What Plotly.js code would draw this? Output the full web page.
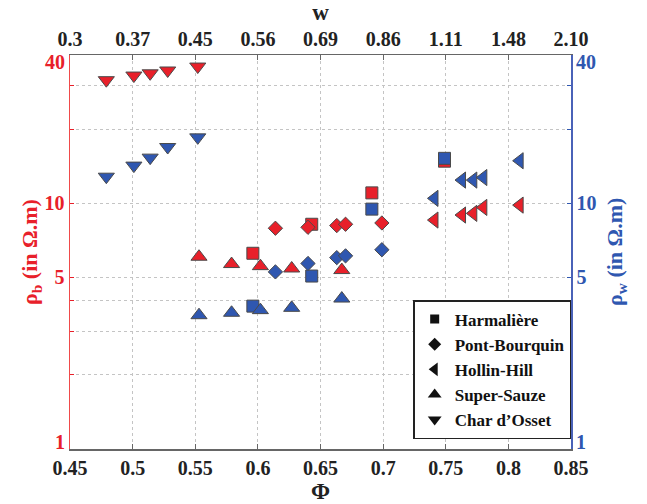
<!DOCTYPE html>
<html>
<head>
<meta charset="utf-8">
<script src="https://cdn.plot.ly/plotly-3.0.1.min.js"></script>
<style>html,body{margin:0;padding:0;background:#fff;}#chart{width:647px;height:504px;}</style>
</head>
<body>
<div id="chart"></div>
<script>
// ---- Data ----
const harmPhi  = [0.596, 0.643, 0.691, 0.749];
const harmRhoB = [6.25, 8.2, 11.0, 14.8];
const harmRhoW = [3.81, 5.05, 9.45, 15.2];

const pontPhi  = [0.614, 0.640, 0.663, 0.670, 0.699];
const pontRhoB = [7.9, 7.97, 8.1, 8.2, 8.3];
const pontRhoW = [5.25, 5.68, 6.0, 6.1, 6.46];

const hollPhi  = [0.741, 0.763, 0.772, 0.780, 0.809];
const hollRhoB = [8.53, 8.94, 9.08, 9.6, 9.81];
const hollRhoW = [10.45, 12.4, 12.4, 12.7, 14.86];

const supPhi  = [0.553, 0.579, 0.602, 0.627, 0.667];
const supRhoB = [6.05, 5.65, 5.54, 5.42, 5.34];
const supRhoW = [3.5, 3.58, 3.67, 3.75, 4.09];

const charPhi  = [0.479, 0.501, 0.514, 0.528, 0.552];
const charRhoB = [31.6, 33.0, 33.7, 34.6, 35.9];
const charRhoW = [12.8, 14.2, 15.3, 16.9, 18.5];

const phiTicks = [0.45, 0.5, 0.55, 0.6, 0.65, 0.7, 0.75, 0.8, 0.85];
const phiTickText = ['0.45', '0.5', '0.55', '0.6', '0.65', '0.7', '0.75', '0.8', '0.85'];
const wTickText = ['0.3', '0.37', '0.45', '0.56', '0.69', '0.86', '1.11', '1.48', '2.10'];
const rhoTicks = [1, 2, 3, 4, 5, 10, 20, 30, 40];
const rhoTickText = ['', '', '', '', '5', '10', '', '', ''];
const rhoEndLabels = [1, 40];

const siteNames = ['Harmalière', 'Pont-Bourquin', 'Hollin-Hill', 'Super-Sauze', "Char d\u2019Osset"];

// ---- Styling ----
const RED = '#e8202a';
const BLUE = '#2f57b0';
const EDGE = '#4a4a4a';
const FONT = 'Liberation Serif';

const sites = [
  {name: siteNames[0], phi: harmPhi, b: harmRhoB, w: harmRhoW, symbol: 'square', size: 12, lsize: 9},
  {name: siteNames[1], phi: pontPhi, b: pontRhoB, w: pontRhoW, symbol: 'diamond', size: 11, lsize: 10},
  {name: siteNames[2], phi: hollPhi, b: hollRhoB, w: hollRhoW, symbol: 'triangle-left', size: 14, lsize: 12},
  {name: siteNames[3], phi: supPhi, b: supRhoB, w: supRhoW, symbol: 'triangle-up', size: 14, lsize: 12},
  {name: siteNames[4], phi: charPhi, b: charRhoB, w: charRhoW, symbol: 'triangle-down', size: 14, lsize: 12}
];

const traces = [];
sites.forEach(s => {
  traces.push({
    x: s.phi, y: s.b, xaxis: 'x', yaxis: 'y', type: 'scatter', mode: 'markers',
    showlegend: false, hoverinfo: 'skip',
    marker: {symbol: s.symbol, size: s.size, color: RED, line: {color: EDGE, width: 1}}
  });
});
sites.forEach(s => {
  traces.push({
    x: s.phi, y: s.w, xaxis: 'x', yaxis: 'y2', type: 'scatter', mode: 'markers',
    showlegend: false, hoverinfo: 'skip',
    marker: {symbol: s.symbol, size: s.size, color: BLUE, line: {color: EDGE, width: 1}}
  });
});
sites.forEach(s => {
  traces.push({
    x: [null], y: [null], xaxis: 'x', yaxis: 'y', type: 'scatter', mode: 'markers',
    name: s.name, showlegend: true,
    marker: {symbol: s.symbol, size: s.lsize, color: '#111', line: {width: 0}}
  });
});
traces.push({x: [null], y: [null], xaxis: 'x2', yaxis: 'y', type: 'scatter', mode: 'markers', showlegend: false, hoverinfo: 'skip'});

const tickFont = (c) => ({family: FONT, size: 20, color: c, weight: 'bold'});
const yRange = [0, Math.log10(40)];

const annotations = [];
rhoEndLabels.forEach(v => {
  const shift = v === 1 ? 7 : -7;
  annotations.push({xref: 'paper', yref: 'y', x: 0, y: Math.log10(v), text: String(v),
    showarrow: false, xanchor: 'right', yanchor: 'middle', xshift: -3, yshift: shift,
    font: tickFont(RED)});
  annotations.push({xref: 'paper', yref: 'y', x: 1, y: Math.log10(v), text: String(v),
    showarrow: false, xanchor: 'left', yanchor: 'middle', xshift: 3, yshift: shift,
    font: tickFont(BLUE)});
});
annotations.push({xref: 'paper', yref: 'paper', x: 0, y: 0.5, xshift: -39, textangle: -90,
  text: '\u03C1<sub>b</sub> (in \u03A9.m)', showarrow: false, xanchor: 'center', yanchor: 'middle',
  font: {family: FONT, size: 22, color: RED, weight: 'bold'}});
annotations.push({xref: 'paper', yref: 'paper', x: 1, y: 0.5, xshift: 45, textangle: -90,
  text: '\u03C1<sub>w</sub> (in \u03A9.m)', showarrow: false, xanchor: 'center', yanchor: 'middle',
  font: {family: FONT, size: 22, color: BLUE, weight: 'bold'}});

const layout = {
  width: 647, height: 504,
  margin: {l: 70, r: 76, t: 55, b: 55},
  paper_bgcolor: '#fff', plot_bgcolor: '#fff',
  font: {family: FONT},
  annotations: annotations,
  xaxis: {
    range: [0.45, 0.85], tickvals: phiTicks, ticktext: phiTickText,
    tickfont: tickFont('#222'), ticks: 'inside', ticklen: 5, tickcolor: '#666',
    showline: true, linecolor: '#666', linewidth: 1.5, mirror: false,
    showgrid: true, gridcolor: '#c4c4c4', griddash: 'dot', gridwidth: 1,
    zeroline: false,
    title: {text: '\u03A6', font: {family: FONT, size: 23, color: '#222', weight: 'bold'}},
    automargin: false
  },
  xaxis2: {
    overlaying: 'x', side: 'top', anchor: 'y',
    range: [0.45, 0.85], tickvals: phiTicks, ticktext: wTickText,
    tickfont: tickFont('#222'), ticks: 'inside', ticklen: 5, tickcolor: '#666',
    showline: true, linecolor: '#666', linewidth: 1.5,
    showgrid: false, zeroline: false,
    title: {text: 'w', font: {family: FONT, size: 23, color: '#222', weight: 'bold'}},
    automargin: false
  },
  yaxis: {
    type: 'log', range: yRange, tickvals: rhoTicks, ticktext: rhoTickText,
    tickfont: tickFont(RED), ticks: 'inside', ticklen: 4, tickcolor: RED,
    showline: true, linecolor: '#f04a4a', linewidth: 1.5,
    showgrid: true, gridcolor: '#c4c4c4', griddash: 'dot', gridwidth: 1,
    zeroline: false, automargin: false
  },
  yaxis2: {
    type: 'log', overlaying: 'y', side: 'right', anchor: 'x',
    range: yRange, tickvals: rhoTicks, ticktext: rhoTickText,
    tickfont: tickFont(BLUE), ticks: 'inside', ticklen: 4, tickcolor: BLUE,
    showline: true, linecolor: '#4a62b8', linewidth: 1.5,
    showgrid: false, zeroline: false, automargin: false
  },
  legend: {
    x: 0.685, y: 0.378, xanchor: 'left', yanchor: 'top',
    bgcolor: '#fff', bordercolor: '#222', borderwidth: 1.5,
    font: {family: FONT, size: 17, color: '#111', weight: 'bold'},
    itemwidth: 30, tracegroupgap: 0
  },
  showlegend: true
};

Plotly.newPlot('chart', traces, layout, {displayModeBar: false, staticPlot: true});
</script>
</body>
</html>
